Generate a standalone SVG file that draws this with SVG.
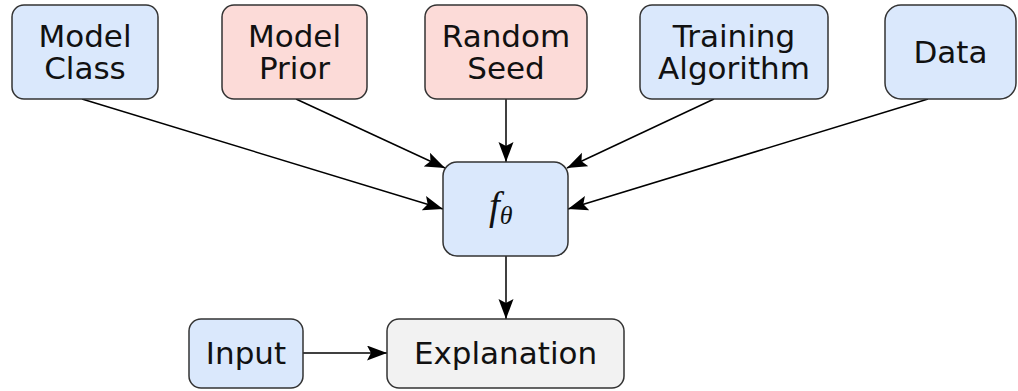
<svg xmlns="http://www.w3.org/2000/svg" width="1018" height="391" viewBox="0 0 1018 391">
<defs>
<marker id="arr" markerUnits="userSpaceOnUse" markerWidth="22" markerHeight="16" refX="20" refY="7.5" orient="auto">
<path d="M0,0 L20,7.5 L0,15 L4,7.5 Z" fill="#000"/>
</marker>
<style>
.box{stroke:#333;stroke-width:1.5}
.blue{fill:#dae8fc}
.red{fill:#fcdbd8}
.gray{fill:#f2f2f2}
.t{font-family:"DejaVu Sans",sans-serif;font-size:31px;fill:#111;text-anchor:middle}
.c{stroke:#000;stroke-width:1.5;fill:none;marker-end:url(#arr)}
</style>
</defs>
<rect width="1018" height="391" fill="#fff"/>
<g id="connectors">
<line class="c" x1="82" y1="99" x2="443" y2="209"/>
<line class="c" x1="296" y1="99" x2="445" y2="168"/>
<line class="c" x1="506" y1="99" x2="506" y2="162"/>
<line class="c" x1="714" y1="99" x2="567" y2="168"/>
<line class="c" x1="928" y1="99" x2="568" y2="209"/>
<line class="c" x1="506" y1="256" x2="506" y2="319"/>
<line class="c" x1="303" y1="353" x2="387" y2="353"/>
</g>
<g id="model-class">
<rect class="box blue" x="12" y="5" width="146" height="94" rx="12"/>
<text class="t" x="85" y="47">Model</text>
<text class="t" x="85" y="79">Class</text>
</g>
<g id="model-prior">
<rect class="box red" x="222" y="5" width="145" height="94" rx="12"/>
<text class="t" x="294.5" y="47">Model</text>
<text class="t" x="294.5" y="79">Prior</text>
</g>
<g id="random-seed">
<rect class="box red" x="425" y="5" width="162" height="94" rx="12"/>
<text class="t" x="506" y="47">Random</text>
<text class="t" x="506" y="79">Seed</text>
</g>
<g id="training-algorithm">
<rect class="box blue" x="640" y="5" width="188" height="94" rx="12"/>
<text class="t" x="734" y="47">Training</text>
<text class="t" x="734" y="79">Algorithm</text>
</g>
<g id="data">
<rect class="box blue" x="885" y="5" width="131" height="94" rx="16"/>
<text class="t" x="950.5" y="63">Data</text>
</g>
<g id="f-theta">
<rect class="box blue" x="443" y="162" width="125" height="94" rx="14"/>
<text x="489" y="219" font-family="Liberation Serif, serif" font-style="italic" font-size="39" fill="#111">f<tspan font-size="26" dy="5">θ</tspan></text>
</g>
<g id="input">
<rect class="box blue" x="189" y="319" width="114" height="69" rx="12"/>
<text class="t" x="246" y="364">Input</text>
</g>
<g id="explanation">
<rect class="box gray" x="387" y="319" width="237" height="69" rx="12"/>
<text class="t" x="505.5" y="364">Explanation</text>
</g>
</svg>
